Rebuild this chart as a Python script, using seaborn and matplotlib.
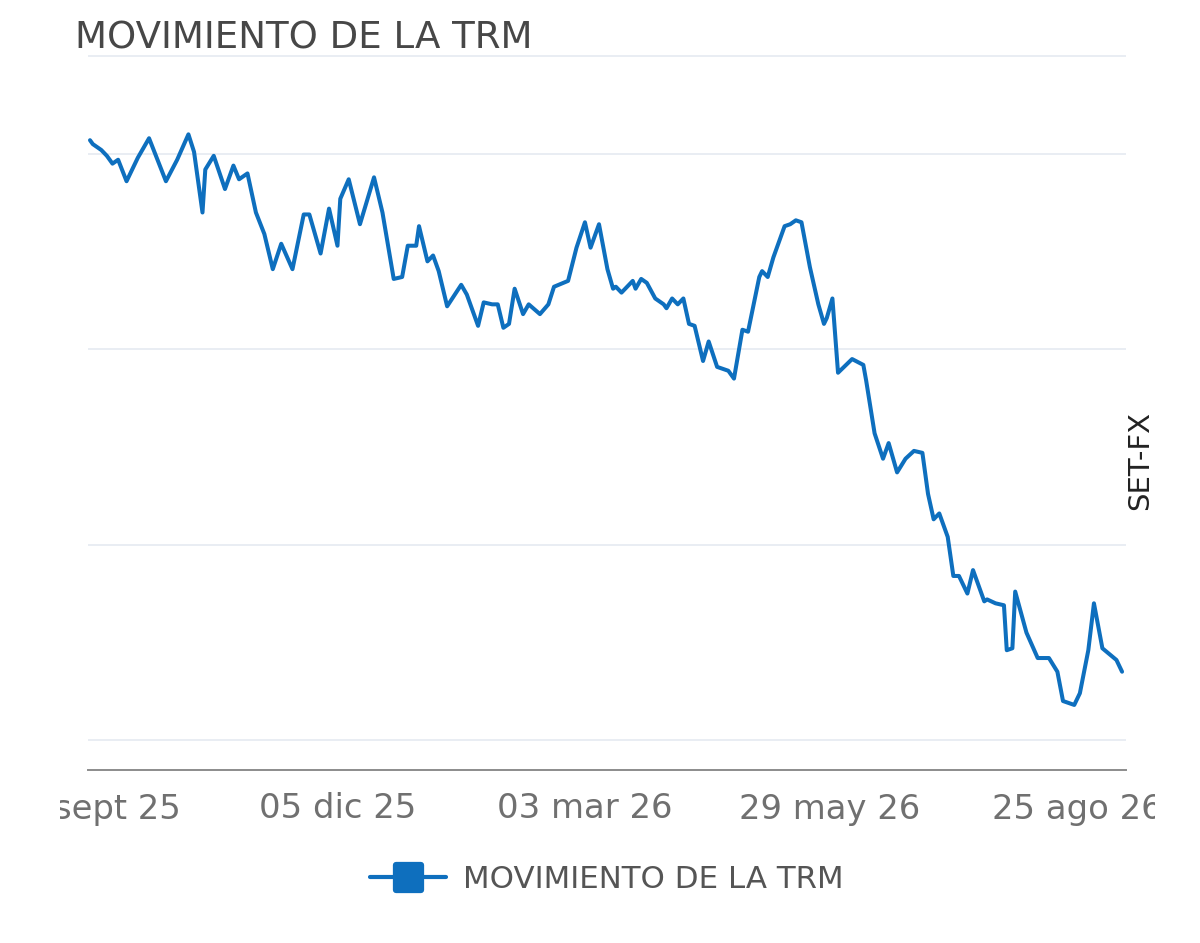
import matplotlib
matplotlib.use("Agg")
import matplotlib.pyplot as plt
from matplotlib.lines import Line2D
from matplotlib.markers import MarkerStyle
from matplotlib.transforms import Bbox, TransformedBbox
import seaborn as sns
import pandas as pd

# ---------------- data ----------------
inicio = "2025-09-08"
dias = [0, 1, 4, 6, 8, 10, 13, 17, 21, 24, 27, 31, 35, 37, 40, 41, 44, 48, 51, 53,
        56, 59, 62, 65, 68, 72, 76, 78, 82, 85, 88, 89, 92, 96, 101, 104, 108, 111, 113, 116,
        117, 120, 122, 124, 127, 132, 134, 138, 140, 143, 145, 147, 149, 151, 154, 156, 160, 163, 165, 170,
        173, 176, 178, 181, 184, 186, 187, 189, 193, 194, 196, 198, 201, 204, 205, 207, 209, 211, 213, 215,
        218, 220, 223, 227, 229, 232, 234, 238, 239, 241, 243, 247, 249, 251, 253, 256, 259, 261, 262, 264,
        266, 271, 275, 276, 279, 282, 284, 287, 290, 293, 296, 298, 300, 302, 305, 307, 309, 312, 314, 318,
        319, 322, 325, 326, 328, 329, 333, 337, 341, 344, 346, 350, 352, 355, 357, 360, 365, 367]
trm = [3907, 3905, 3902, 3899, 3895, 3897, 3886, 3898, 3908, 3897, 3886, 3897, 3910, 3901, 3870, 3892, 3899, 3882, 3894, 3887,
       3890, 3870, 3859, 3841, 3854, 3841, 3869, 3869, 3849, 3872, 3853, 3877, 3887, 3864, 3888, 3870, 3836, 3837, 3853, 3853,
       3863, 3845, 3848, 3840, 3822, 3833, 3828, 3812, 3824, 3823, 3823, 3811, 3813, 3831, 3818, 3823, 3818, 3823, 3832, 3835,
       3852, 3865, 3852, 3864, 3841, 3831, 3832, 3829, 3835, 3831, 3836, 3834, 3826, 3823, 3821, 3826, 3823, 3826, 3813, 3812,
       3794, 3804, 3791, 3789, 3785, 3810, 3809, 3837, 3840, 3837, 3847, 3863, 3864, 3866, 3865, 3842, 3823, 3813, 3816, 3826,
       3788, 3795, 3792, 3784, 3757, 3744, 3752, 3737, 3744, 3748, 3747, 3726, 3713, 3716, 3704, 3684, 3684, 3675, 3687, 3671,
       3672, 3670, 3669, 3646, 3647, 3676, 3655, 3642, 3642, 3635, 3620, 3618, 3624, 3646, 3670, 3647, 3641, 3635]

fechas_ticks = ["2025-09-08", "2025-12-05", "2026-03-03", "2026-05-29", "2026-08-25"]
etiquetas_ticks = ["08 sept 25", "05 dic 25", "03 mar 26", "29 may 26", "25 ago 26"]
niveles_grid = [3600, 3700, 3800, 3900, 3950]

titulo = "MOVIMIENTO DE LA TRM"
serie = "MOVIMIENTO DE LA TRM"
fuente = "SET-FX"

# ---------------- figure ----------------
sns.set_theme(style="white")
plt.rcParams["font.family"] = ["DejaVu Sans"]

W, H = 1200, 943
fig = plt.figure(figsize=(W / 100, H / 100), dpi=100)
fig.patch.set_facecolor("white")

def px_box(l, t, r, b):
    return [l / W, 1 - b / H, (r - l) / W, (b - t) / H]

ax = fig.add_axes(px_box(88, 55, 1126, 770))

df = pd.DataFrame({"fecha": pd.Timestamp(inicio) + pd.to_timedelta(dias, unit="D"),
                   "trm": trm})
color = "#0e6fbe"
sns.lineplot(data=df, x="fecha", y="trm", ax=ax, color=color, linewidth=2.9,
             legend=False, zorder=3)

t0 = pd.Timestamp(inicio)
ax.set_xlim(t0 - pd.Timedelta(days=0.71), t0 + pd.Timedelta(days=368.4))
ax.set_ylim(3584.7, 3950.6)

ax.set_yticks(niveles_grid)
ax.set_yticklabels([])
ax.tick_params(axis="y", length=0)
ax.yaxis.grid(True, color="#e3e8f0", linewidth=1.1)
ax.xaxis.grid(False)
ax.set_axisbelow(True)

ax.set_xticks(pd.to_datetime(fechas_ticks))
ax.set_xticklabels(etiquetas_ticks)
ax.tick_params(axis="x", direction="out", length=7.2, width=1.3, color="#8c8c8c",
               labelsize=24.4, labelcolor="#707070", pad=9)
ax.set_xlabel("")
ax.set_ylabel("")

for s in ["top", "left", "right"]:
    ax.spines[s].set_visible(False)
ax.spines["bottom"].set_color("#8c8c8c")
ax.spines["bottom"].set_linewidth(1.4)

clip = TransformedBbox(Bbox.from_extents(60 / W, 0, 1155 / W, 1), fig.transFigure)
for lbl in ax.get_xticklabels():
    lbl.set_clip_box(clip)
    lbl.set_clip_on(True)

# title
fig.text(75 / W, 1 - 38 / H, titulo, ha="left", va="center", fontsize=26.7,
         color="#474747")

# source on the right
fig.text(1140 / W, 1 - 460 / H, fuente, rotation=90, ha="center", va="center",
         fontsize=21, color="#222222")

# legend
handle = Line2D([], [], color=color, linewidth=3,
                marker=MarkerStyle("s", joinstyle="round"), markersize=18,
                markeredgewidth=4.5, markerfacecolor=color, markeredgecolor=color)
fig.legend([handle], [serie], loc="center", bbox_to_anchor=(607 / W, 1 - 879 / H),
           frameon=False, fontsize=22.2, handlelength=2.45, handletextpad=0.55,
           labelcolor="#555555")

fig.savefig("out.png", dpi=100, facecolor="white")
